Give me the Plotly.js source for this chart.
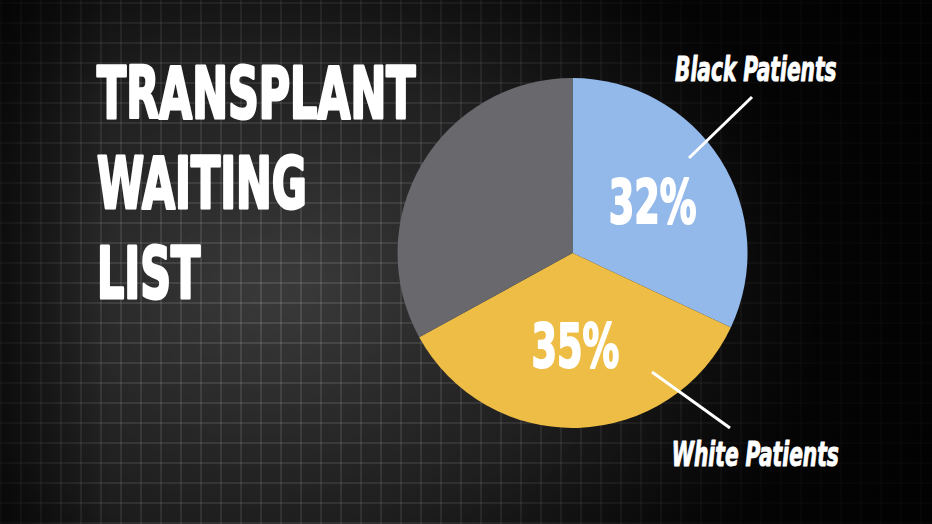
<!DOCTYPE html>
<html>
<head>
<meta charset="utf-8">
<script src="https://cdn.plot.ly/plotly-3.0.1.min.js"></script>
<style>
html,body{margin:0;padding:0;width:932px;height:524px;overflow:hidden;}
#chart{width:932px;height:524px;
background:
 radial-gradient(ellipse 560px 440px at 260px 300px, rgba(0,0,0,0) 0%, rgba(0,0,0,0.25) 55%, rgba(0,0,0,0.85) 100%),
 linear-gradient(90deg, rgba(0,0,0,0.6) 0px, rgba(0,0,0,0) 110px),
 repeating-linear-gradient(90deg, rgba(255,255,255,0.11) 0px, rgba(255,255,255,0.11) 2px, rgba(0,0,0,0) 2px, rgba(0,0,0,0) 20px),
 repeating-linear-gradient(0deg, rgba(255,255,255,0.11) 0px, rgba(255,255,255,0.11) 2px, rgba(0,0,0,0) 2px, rgba(0,0,0,0) 20px),
 radial-gradient(ellipse 700px 500px at 300px 280px, #3b3b3b 0%, #232323 60%, #0c0c0c 100%);
}
</style>
</head>
<body>
<div id="chart"></div>
<script>
const labels = ["Black Patients", "White Patients", "Other Patients"];
const values = [32, 35, 33];
const colors = ["#93b8ea", "#edbd45", "#69686d"];
const showPct = [true, true, false];
const titleLines = ["TRANSPLANT", "WAITING", "LIST"];

const condensed = "'DejaVu Sans Condensed', 'DejaVu Sans', sans-serif";

const trace = {
  type: "pie",
  labels: labels,
  values: values,
  sort: false,
  direction: "clockwise",
  rotation: 0,
  marker: {colors: colors, line: {width: 0}},
  texttemplate: showPct.map(s => s ? "%{value}%" : ""),
  textposition: "inside",
  insidetextorientation: "horizontal",
  insidetextfont: {family: condensed, size: 60, color: "#ffffff", weight: "bold"},
  hoverinfo: "none",
  showlegend: false,
  domain: {x: [0.426, 0.8026], y: [0.1832, 0.8511]}
};

const titleSize = 72;
const annotations = [];
titleLines.forEach((t, i) => {
  annotations.push({
    text: t, xref: "paper", yref: "paper",
    x: 95 / 932, y: 1 - (137 + i * 90) / 524,
    xanchor: "left", yanchor: "bottom", showarrow: false,
    font: {family: condensed, size: titleSize, color: "#ffffff", weight: "bold"}
  });
});
annotations.push({
  text: "<i>" + labels[0] + "</i>", xref: "paper", yref: "paper",
  x: 839 / 932, y: 1 - 91 / 524, xanchor: "right", yanchor: "bottom", showarrow: false,
  font: {family: condensed, size: 33, color: "#ffffff", weight: "bold"}
});
annotations.push({
  text: "<i>" + labels[1] + "</i>", xref: "paper", yref: "paper",
  x: 841 / 932, y: 1 - 476 / 524, xanchor: "right", yanchor: "bottom", showarrow: false,
  font: {family: condensed, size: 33, color: "#ffffff", weight: "bold"}
});

const shapes = [
  {type: "line", xref: "paper", yref: "paper", x0: 689/932, y0: 1-158/524, x1: 752/932, y1: 1-97/524, line: {color: "#ffffff", width: 3}},
  {type: "line", xref: "paper", yref: "paper", x0: 652/932, y0: 1-372/524, x1: 730/932, y1: 1-428/524, line: {color: "#ffffff", width: 3}}
];

const layout = {
  width: 932, height: 524,
  margin: {l: 0, r: 0, t: 0, b: 0},
  paper_bgcolor: "rgba(0,0,0,0)",
  plot_bgcolor: "rgba(0,0,0,0)",
  annotations: annotations,
  shapes: shapes
};

Plotly.newPlot("chart", [trace], layout, {displayModeBar: false, staticPlot: true}).then(gd => {
  // condense and embolden the display type (no condensed heavy font is installed)
  const annTexts = gd.querySelectorAll("g.annotation text.annotation-text");
  annTexts.forEach((el, i) => {
    const isTitle = i < titleLines.length;
    el.style.transformBox = "fill-box";
    el.style.transformOrigin = isTitle ? "left center" : "right center";
    el.style.transform = "scaleX(" + (isTitle ? 0.66 : 0.68) + ")";
    el.style.stroke = "#ffffff";
    el.style.strokeWidth = isTitle ? "3px" : "1px";
    el.style.strokeLinejoin = "round";
  });
  gd.querySelectorAll("text.slicetext").forEach(el => {
    const tr = el.getAttribute("transform") || "";
    el.setAttribute("transform", tr + " scale(0.68,1)");
    el.style.stroke = "#ffffff";
    el.style.strokeWidth = "2px";
    el.style.strokeLinejoin = "round";
  });
});
</script>
</body>
</html>
